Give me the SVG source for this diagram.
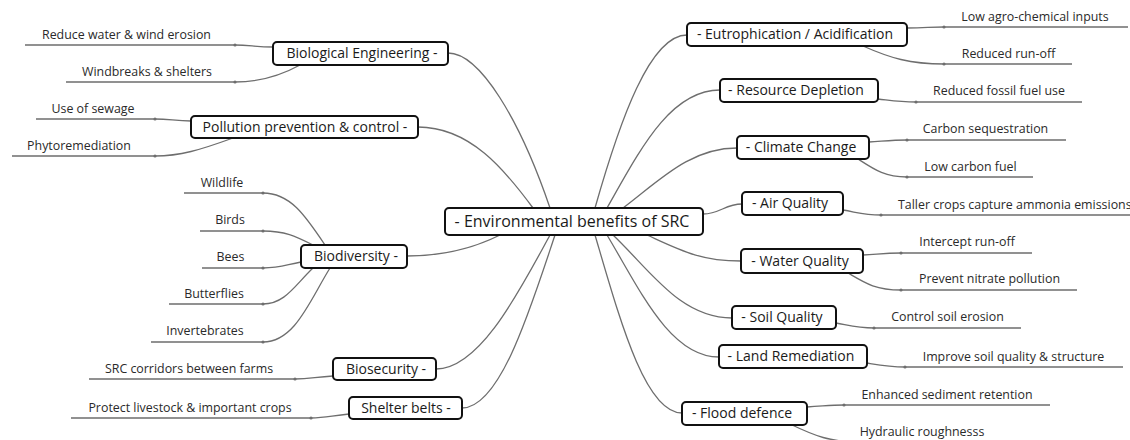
<svg xmlns="http://www.w3.org/2000/svg" width="1130" height="440" viewBox="0 0 1130 440">
<style>
.box{fill:#fff;stroke:#111;stroke-width:2}
.nt{font-family:"Open Sans","Noto Sans",sans-serif;font-size:14px;fill:#1a1a1a;text-anchor:middle}
.ct{font-family:"Open Sans","Noto Sans",sans-serif;font-size:16px;fill:#1a1a1a;text-anchor:middle}
.lt{font-family:"Open Sans","Noto Sans",sans-serif;font-size:12.4px;fill:#2a2a2a;text-anchor:middle}
.c{fill:none;stroke:#6e6e6e;stroke-width:1.3}
.d{fill:#6e6e6e}
</style>
<g id="connectors">
<!-- main branches -->
<path class="c" d="M448,53 C480,53 520,120 550,208"/>
<path class="c" d="M418,127 C470,127 505,170 533,208"/>
<path class="c" d="M500,235 C470,250 440,256 407,256"/>
<path class="c" d="M550,235 C520,290 480,369 436,369"/>
<path class="c" d="M555,235 C530,310 500,408 462,408"/>
<path class="c" d="M595,208 C620,120 650,35 687,35"/>
<path class="c" d="M607,208 C640,150 670,90 720,90"/>
<path class="c" d="M623,208 C660,180 690,148 737,148"/>
<path class="c" d="M703,214 C720,214 725,204 742,204"/>
<path class="c" d="M647,235 C680,250 700,261 741,261"/>
<path class="c" d="M613,235 C650,270 680,318 732,318"/>
<path class="c" d="M607,235 C640,290 670,357 719,357"/>
<path class="c" d="M595,235 C620,320 645,413 682,413"/>
<!-- left leaves -->
<path class="c" d="M273,47 C255,47 250,45 235,45 L25,45"/><circle class="d" cx="235" cy="45" r="1.6"/>
<path class="c" d="M300,65 C280,76 260,82 235,82 L66,82"/><circle class="d" cx="235" cy="82" r="1.6"/>
<path class="c" d="M191,121 C175,121 170,119 155,119 L36,119"/><circle class="d" cx="155" cy="119" r="1.6"/>
<path class="c" d="M233,138 C200,150 180,156 155,156 L12,156"/><circle class="d" cx="155" cy="156" r="1.6"/>
<path class="c" d="M325,245 C305,215 290,193 263,193 L184,193"/><circle class="d" cx="263" cy="193" r="1.6"/>
<path class="c" d="M313,245 C295,236 285,231 263,231 L200,231"/><circle class="d" cx="263" cy="231" r="1.6"/>
<path class="c" d="M301,262 C285,265 280,268 263,268 L202,268"/><circle class="d" cx="263" cy="268" r="1.6"/>
<path class="c" d="M313,268 C295,285 285,304 263,304 L169,304"/><circle class="d" cx="263" cy="304" r="1.6"/>
<path class="c" d="M330,268 C310,300 295,342 263,342 L151,342"/><circle class="d" cx="263" cy="342" r="1.6"/>
<path class="c" d="M333,376 C315,377 310,379 295,379 L89,379"/><circle class="d" cx="295" cy="379" r="1.6"/>
<path class="c" d="M349,414 C330,416 325,418 311,418 L71,418"/><circle class="d" cx="311" cy="418" r="1.6"/>
<!-- right leaves -->
<path class="c" d="M907,28 C925,28 930,27 944,27 L1128,27"/><circle class="d" cx="944" cy="27" r="1.6"/>
<path class="c" d="M863,46 C890,58 910,64 944,64 L1072,64"/><circle class="d" cx="944" cy="64" r="1.6"/>
<path class="c" d="M878,99 C895,101 900,102 916,102 L1082,102"/><circle class="d" cx="916" cy="102" r="1.6"/>
<path class="c" d="M869,142 C885,141 892,140 907,140 L1066,140"/><circle class="d" cx="907" cy="140" r="1.6"/>
<path class="c" d="M858,159 C875,170 885,177 907,177 L1033,177"/><circle class="d" cx="907" cy="177" r="1.6"/>
<path class="c" d="M843,210 C860,213 865,215 881,215 L1130,215"/><circle class="d" cx="881" cy="215" r="1.6"/>
<path class="c" d="M863,255 C880,254 885,253 901,253 L1032,253"/><circle class="d" cx="901" cy="253" r="1.6"/>
<path class="c" d="M848,273 C865,283 875,290 901,290 L1077,290"/><circle class="d" cx="901" cy="290" r="1.6"/>
<path class="c" d="M836,323 C852,326 858,328 874,328 L1021,328"/><circle class="d" cx="874" cy="328" r="1.6"/>
<path class="c" d="M867,363 C885,366 890,367 905,367 L1123,367"/><circle class="d" cx="905" cy="367" r="1.6"/>
<path class="c" d="M807,407 C825,406 830,405 844,405 L1050,405"/><circle class="d" cx="844" cy="405" r="1.6"/>
<path class="c" d="M790,424 C815,436 830,442 860,442 L1010,442"/>
</g>
<g id="center"><rect class="box" x="445" y="208" width="258" height="27" rx="4"/><text class="ct" x="572" y="227">- Environmental benefits of SRC</text></g>
<g id="bioeng"><rect class="box" x="273" y="42" width="175" height="23" rx="4"/><text class="nt" x="362" y="58">Biological Engineering  -</text></g>
<g id="pollution"><rect class="box" x="191" y="116" width="227" height="22" rx="4"/><text class="nt" x="305" y="132">Pollution prevention &amp; control -</text></g>
<g id="biodiversity"><rect class="box" x="301" y="245" width="106" height="23" rx="4"/><text class="nt" x="356" y="261">Biodiversity -</text></g>
<g id="biosecurity"><rect class="box" x="333" y="358" width="103" height="22" rx="4"/><text class="nt" x="386" y="374">Biosecurity -</text></g>
<g id="shelter"><rect class="box" x="349" y="397" width="113" height="22" rx="4"/><text class="nt" x="406" y="413">Shelter belts -</text></g>
<g id="eutro"><rect class="box" x="687" y="23" width="220" height="23" rx="4"/><text class="nt" x="795" y="39">- Eutrophication / Acidification</text></g>
<g id="resource"><rect class="box" x="720" y="79" width="158" height="23" rx="4"/><text class="nt" x="796" y="95">- Resource Depletion</text></g>
<g id="climate"><rect class="box" x="737" y="136" width="132" height="23" rx="4"/><text class="nt" x="801" y="152">- Climate Change</text></g>
<g id="air"><rect class="box" x="742" y="192" width="101" height="23" rx="4"/><text class="nt" x="790" y="208">- Air Quality</text></g>
<g id="water"><rect class="box" x="741" y="249" width="122" height="24" rx="4"/><text class="nt" x="800" y="266">- Water Quality</text></g>
<g id="soil"><rect class="box" x="732" y="306" width="104" height="23" rx="4"/><text class="nt" x="782" y="322">- Soil Quality</text></g>
<g id="land"><rect class="box" x="719" y="345" width="148" height="23" rx="4"/><text class="nt" x="791" y="361">- Land Remediation</text></g>
<g id="flood"><rect class="box" x="682" y="402" width="125" height="23" rx="4"/><text class="nt" x="742" y="418">- Flood defence</text></g>
<g id="leaves">
<text class="lt" x="126.5" y="39">Reduce water &amp; wind erosion</text>
<text class="lt" x="147" y="76">Windbreaks &amp; shelters</text>
<text class="lt" x="93" y="113">Use of sewage</text>
<text class="lt" x="79" y="150">Phytoremediation</text>
<text class="lt" x="222" y="187">Wildlife</text>
<text class="lt" x="230" y="224">Birds</text>
<text class="lt" x="230.5" y="261">Bees</text>
<text class="lt" x="214" y="298">Butterflies</text>
<text class="lt" x="205" y="335">Invertebrates</text>
<text class="lt" x="189" y="373">SRC corridors between farms</text>
<text class="lt" x="190" y="412">Protect livestock &amp; important crops</text>
<text class="lt" x="1035" y="21">Low agro-chemical inputs</text>
<text class="lt" x="1008.5" y="58">Reduced run-off</text>
<text class="lt" x="999" y="95">Reduced fossil fuel use</text>
<text class="lt" x="985.5" y="133">Carbon sequestration</text>
<text class="lt" x="970.5" y="171">Low carbon fuel</text>
<text class="lt" x="898" y="209" style="text-anchor:start">Taller crops capture ammonia emissions</text>
<text class="lt" x="967" y="246">Intercept run-off</text>
<text class="lt" x="989.5" y="283">Prevent nitrate pollution</text>
<text class="lt" x="947.5" y="321">Control soil erosion</text>
<text class="lt" x="1013.5" y="361">Improve soil quality &amp; structure</text>
<text class="lt" x="947" y="399">Enhanced sediment retention</text>
<text class="lt" x="922" y="436">Hydraulic roughnesss</text>
</g>
</svg>
